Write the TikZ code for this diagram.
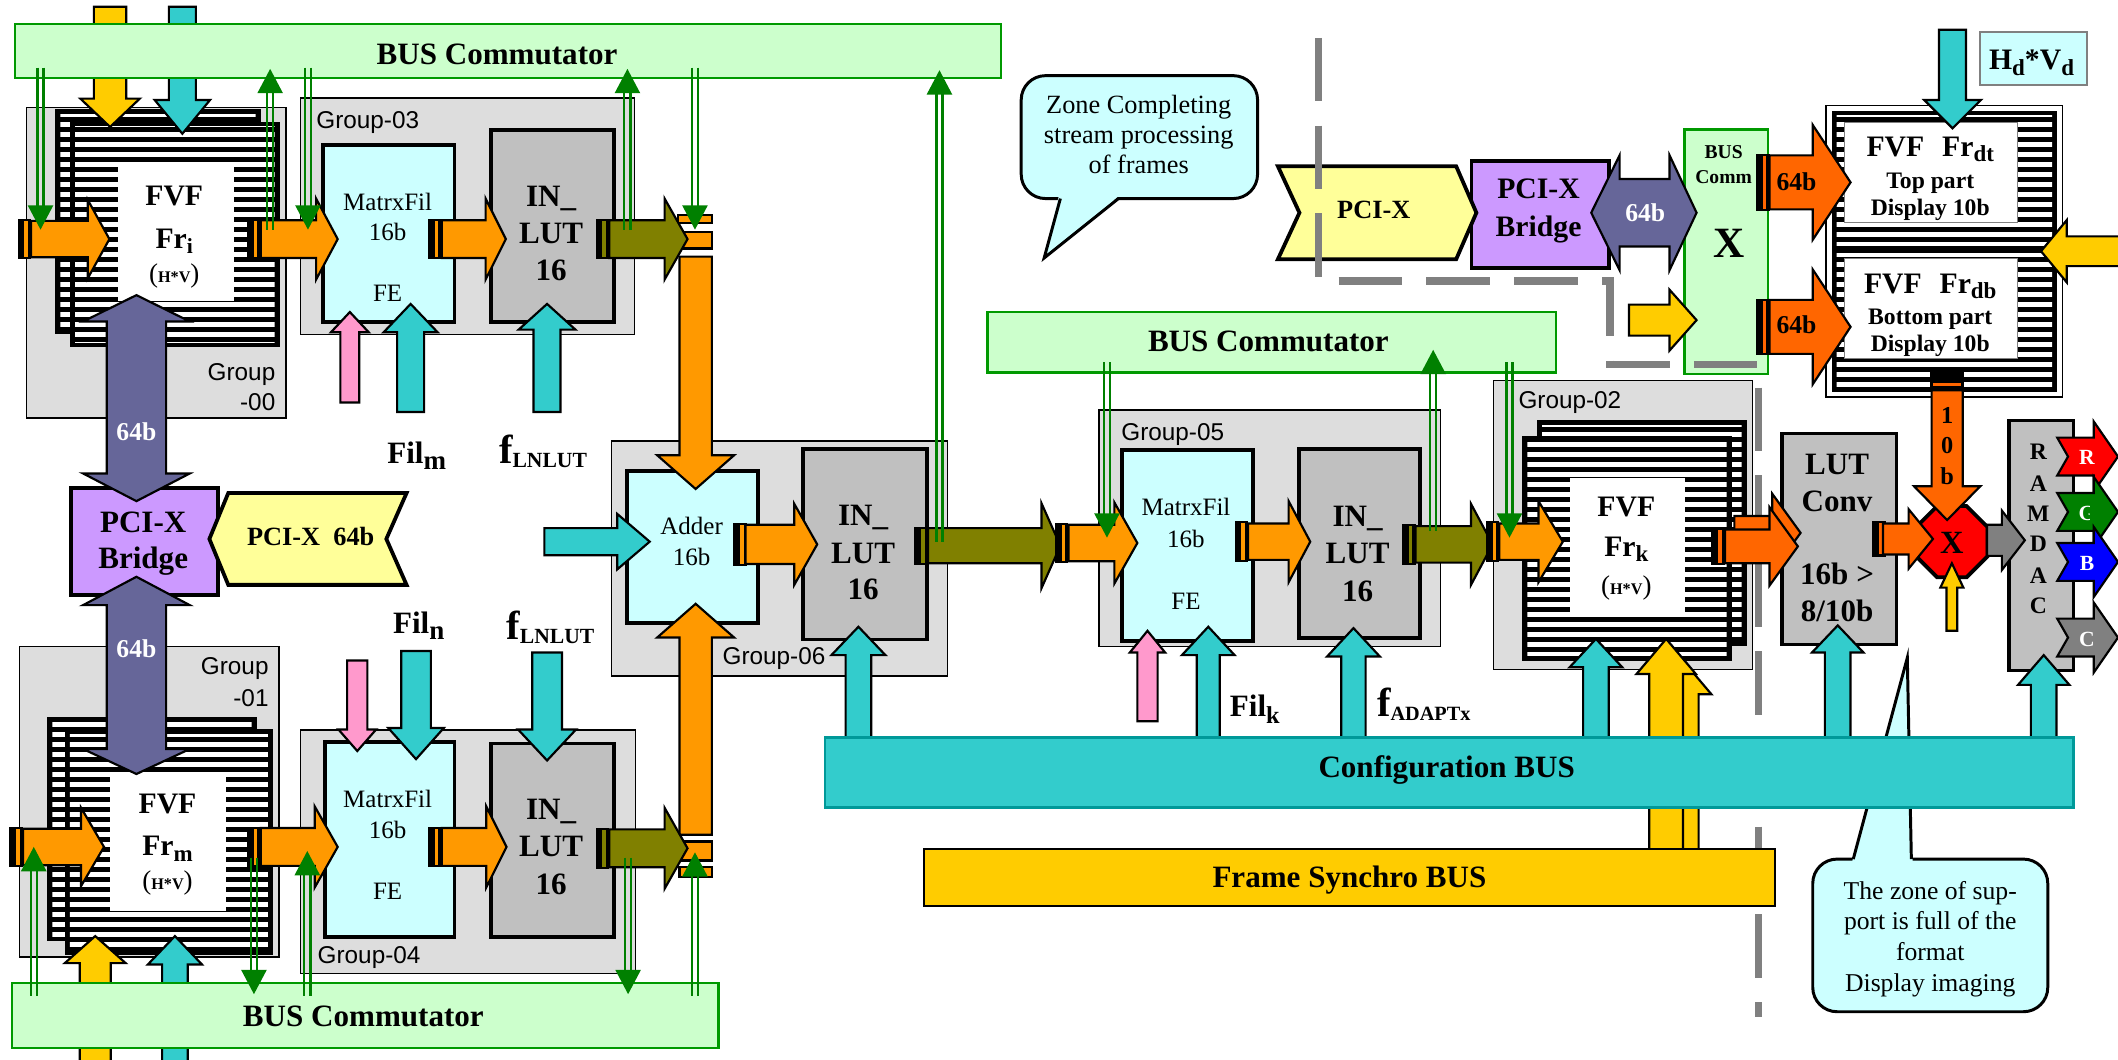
\documentclass[tikz,border=0pt]{standalone}
\usepackage{fontspec}
\setmainfont{Liberation Serif}
\newfontfamily\arialf{Liberation Sans}
\usepackage{graphicx}
\usetikzlibrary{shapes.geometric}
\definecolor{busgreen}{HTML}{CCFFCC}
\definecolor{busline}{HTML}{009900}
\definecolor{grp}{HTML}{DDDDDD}
\definecolor{lcyan}{HTML}{CCFFFF}
\definecolor{lgray}{HTML}{C0C0C0}
\definecolor{orng}{HTML}{FF9900}
\definecolor{olv}{HTML}{808000}
\definecolor{ored}{HTML}{FF6600}
\definecolor{lpurp}{HTML}{CC99FF}
\definecolor{dpurp}{HTML}{666699}
\definecolor{lyel}{HTML}{FFFF99}
\definecolor{gold}{HTML}{FFCC00}
\definecolor{tq}{HTML}{33CCCC}
\definecolor{tqd}{HTML}{009999}
\definecolor{pnk}{HTML}{FF99CC}
\definecolor{gar}{HTML}{008000}
\definecolor{dgray}{HTML}{808080}
\definecolor{rblue}{HTML}{0000FF}

\newcommand\fsz[1]{\fontsize{#1}{#1}\selectfont}
\newcommand\sbs[3]{\raisebox{-#2pt}{\fsz{#1}#3}}

\tikzset{
  arr/.style={draw=black,line width=1.6,line join=miter},
  grpbox/.style={draw=black,fill=grp,line width=1.1},
  cbox/.style={draw=black,fill=lcyan,line width=2.8},
  gbox/.style={draw=black,fill=lgray,line width=2.8},
  pbox/.style={draw=black,fill=lpurp,line width=2.8},
  bus/.style={draw=busline,fill=busgreen,line width=1.8},
  gl/.style={draw=gar,line width=1.7},
  tx/.style={inner sep=0,anchor=base,align=center},
  glab/.style={inner sep=0,font=\arialf\fsz{18}},
}
\newcommand\bx[6]{\node[#2,inner sep=0,anchor=north west,minimum width={#5-#3},minimum height={#6-#4}] (#1) at (#3,#4) {};}
\newcommand\T[5]{\node[tx] (#1) at (#2,#3) {\fsz{#4}#5};}
\newcommand\barrow[8]{\filldraw[arr,fill=#1,shift={(#2,#3)},rotate=#4] (0,{-(#6)}) -- ({(#5)-(#8)},{-(#6)}) -- ({(#5)-(#8)},{-(#7)}) -- ({#5},0) -- ({(#5)-(#8)},{#7}) -- ({(#5)-(#8)},{#6}) -- (0,{#6}) -- cycle;}
\newcommand\arR[7]{\barrow{#1}{#2}{#4}{0}{#3-#2}{#5}{#6}{#7}}
\newcommand\arL[7]{\barrow{#1}{#2}{#4}{180}{#2-#3}{#5}{#6}{#7}}
\newcommand\arU[7]{\barrow{#1}{#4}{#2}{90}{#2-#3}{#5}{#6}{#7}}
\newcommand\arD[7]{\barrow{#1}{#4}{#2}{-90}{#3-#2}{#5}{#6}{#7}}
\newcommand\tl[4]{\fill[black] (#1,{#2-#3}) rectangle ({#1+10},{#2+#3}); \fill[#4] ({#1+5},{#2-#3+1.5}) rectangle ({#1+7.5},{#2+#3-1.5});}
\newcommand\striped[4]{\fill[black] (#1,#2) rectangle (#3,#4);
  \begin{scope}\clip ({#1+3.7},{#2+3.7}) rectangle ({#3-3.7},{#4-3.7});
  \foreach \k in {0,...,106} {\fill[white] (#1,{\k*7.4+1.5}) rectangle (#3,{\k*7.4+5.2});}
  \end{scope}}
\newcommand\gU[3]{\draw[gl] ({#1-2.3},#2) -- ({#1-2.3},{#3+16}) ({#1+2.3},#2) -- ({#1+2.3},{#3+16}); \fill[gar] ({#1-9.5},{#3+18}) -- (#1,#3) -- ({#1+9.5},{#3+18}) -- cycle;}
\newcommand\gD[3]{\draw[gl] ({#1-2.3},#2) -- ({#1-2.3},{#3-16}) ({#1+2.3},#2) -- ({#1+2.3},{#3-16}); \fill[gar] ({#1-9.5},{#3-18}) -- (#1,#3) -- ({#1+9.5},{#3-18}) -- cycle;}
\newcommand\dblV[7]{\filldraw[arr,fill=dpurp] (#1,#2) -- ({#1+#7},#3) -- ({#1+#6},#3) -- ({#1+#6},#4) -- ({#1+#7},#4) -- (#1,#5) -- ({#1-#7},#4) -- ({#1-#6},#4) -- ({#1-#6},#3) -- ({#1-#7},#3) -- cycle;}
\newcommand\notch[2]{\filldraw[arr,fill=#1] (1523,{#2-14}) -- (1550,{#2-14}) -- (1550,{#2-26}) -- (1568,#2) -- (1550,{#2+26}) -- (1550,{#2+14}) -- (1523,{#2+14}) -- (1531,#2) -- cycle;}

\begin{document}
\begin{tikzpicture}[x=1pt,y=-1pt]
\useasboundingbox (0,0) rectangle (1568,784);
\clip (0,0) rectangle (1568,784);
\fill[white] (0,0) rectangle (1568,784);

% ---------- group boxes
\bx{g00}{grpbox}{19}{79}{211}{309}
\bx{g01}{grpbox}{14}{478}{206}{708}
\bx{g03}{grpbox}{222}{72}{469}{247}
\bx{g04}{grpbox}{222}{540}{470}{720}
\bx{g06}{grpbox}{452}{326}{701}{500}
\bx{g05}{grpbox}{813}{303}{1066}{478}
\bx{g02}{grpbox}{1105}{281}{1297}{495}

% ---------- striped frames
\striped{41}{81}{193}{247}
\striped{52}{90}{207}{257}
\bx{fri}{fill=white}{87}{121}{173}{223}
\striped{35}{531}{190}{697}
\striped{48}{540}{202}{707}
\bx{frm}{fill=white}{81}{572}{167}{674}
\striped{1138}{311}{1293}{478}
\striped{1127}{323}{1282}{489}
\bx{frk}{fill=white}{1162}{354}{1247}{454}
\draw[line width=1.2] (1352,78) rectangle (1527,294);
\striped{1356}{82}{1523}{290}
\fill[black] (1359,182) rectangle (1520,187);
\bx{frdt}{draw=dgray,fill=white,line width=0.8}{1365}{90}{1493}{164}
\bx{frdb}{draw=dgray,fill=white,line width=0.8}{1365}{191}{1493}{265}

% ---------- component boxes
\bx{mf3}{cbox}{238}{106}{335}{237}
\bx{lut3}{gbox}{362}{95}{453}{237}
\bx{mf4}{cbox}{239}{548}{335}{692}
\bx{lut4}{gbox}{362}{549}{453}{692}
\bx{add}{cbox}{463}{347}{560}{460}
\bx{lut6}{gbox}{593}{331}{685}{472}
\bx{mf5}{cbox}{829}{332}{926}{473}
\bx{lut5}{gbox}{960}{331}{1050}{471}
\bx{lutc}{gbox,line width=2.4}{1318}{320}{1403}{476}
\bx{ramdac}{gbox,line width=2.4}{1486}{310}{1534}{495}
\bx{brL}{pbox}{51}{360}{160}{439}
\filldraw[draw=black,fill=lyel,line width=2.8,line join=miter] (155,399) -- (169,365) -- (301,365) -- (286,399) -- (301,433) -- (169,433) -- cycle;
\bx{brR}{pbox}{1088}{118}{1190}{197}
\filldraw[draw=black,fill=lyel,line width=2.8,line join=miter] (946,123) -- (1078,123) -- (1093,157.5) -- (1078,192) -- (946,192) -- (962,157.5) -- cycle;
\bx{bcomm}{bus}{1246}{95}{1308}{276}
\bx{hv}{draw=dgray,fill=lcyan,line width=1.5}{1465}{23}{1544}{62}
\node[regular polygon,regular polygon sides=8,minimum size=57,draw=black,fill=red,line width=2.8,inner sep=0] (oct) at (1445,401) {};

% ---------- dashed zone line
\draw[dgray,line width=5.5,dash pattern=on 47pt off 18pt] (976,28) -- (976,208) -- (1192,208) -- (1192,270) -- (1302,270) -- (1302,753);

% ---------- speech bubble 1
\filldraw[draw=black,fill=lcyan,line width=2.2,rounded corners=18] (756,56) rectangle (931,147);
\fill[lcyan] (784,144.5) -- (773,191) -- (829,144.5) -- cycle;
\draw[line width=2.2] (785,147) -- (773,191) -- (828,147);

% ---------- orange vertical connectors
\filldraw[arr,fill=orng] (502,159) rectangle (527,165);
\filldraw[arr,fill=orng] (502,172) rectangle (527,184);
\arD{orng}{190}{362}{515}{12}{28.5}{25}
\arU{orng}{618}{447}{515}{12}{28.5}{25}
\filldraw[arr,fill=orng] (503,623) rectangle (527,637);
\filldraw[arr,fill=orng] (503,642) rectangle (527,649);

% ---------- horizontal flow arrows
\tl{13}{177}{15}{orng}\arR{orng}{23}{81}{177}{13.5}{29}{16}
\tl{183}{177}{15}{orng}\arR{orng}{193}{250}{177}{14}{30}{16}
\tl{317}{177}{15}{orng}\arR{orng}{327}{374.5}{177}{14}{30}{15}
\tl{441}{177}{15}{olv}\arR{olv}{451}{509}{177}{14}{30}{17}
\tl{7}{627}{15}{orng}\arR{orng}{17}{77}{627}{13.5}{29}{17}
\tl{183}{627}{15}{orng}\arR{orng}{193}{250}{627}{14}{30}{17}
\tl{317}{627}{15}{orng}\arR{orng}{327}{375}{627}{14}{30}{15}
\tl{441}{628}{15}{olv}\arR{olv}{451}{509}{628}{14}{30}{17}
\tl{543}{403}{16}{orng}\arR{orng}{552}{605}{403}{14.5}{30}{17}
\tl{677}{404}{14}{olv}\arR{olv}{687}{785}{404}{13}{31.5}{14}
\tl{781}{402}{15}{orng}\arR{orng}{791}{842}{402}{13.5}{30}{17}
\tl{914}{401}{15}{orng}\arR{orng}{924}{970}{401}{13.5}{30}{16}
\tl{1038}{403}{15}{olv}\arR{olv}{1048}{1105}{403}{13.5}{30}{16}
\tl{1100}{401}{15}{orng}\arR{orng}{1110}{1157}{401}{13.5}{30}{18}
\arR{ored}{1284}{1333}{394.5}{12.5}{29}{21}
\tl{1267}{404.5}{14}{ored}\arR{ored}{1277}{1331}{404.5}{12.5}{29}{21}
\tl{1386}{399}{13}{ored}\arR{ored}{1394}{1431}{399}{11.5}{22}{18}
\arR{dgray}{1471}{1499}{400}{11.5}{22}{17}
\tl{1300}{135}{21}{ored}\arR{ored}{1310}{1370}{135}{20}{42.5}{28}
\tl{1300}{242}{21}{ored}\arR{ored}{1310}{1370}{242}{20}{42.5}{28}
\arR{gold}{1206}{1256}{237}{11.5}{22.5}{20}
\arL{gold}{1575}{1511}{186}{11}{23}{19}
\arR{tq}{403}{481}{401}{10}{20.5}{24}

% ---------- vertical arrows
\arD{gold}{5}{94}{81.5}{12}{22}{21}
\arD{tq}{5}{99}{135}{10}{20.5}{25}
\arU{gold}{795}{693}{70.5}{11.5}{22.5}{20}
\arU{tq}{795}{693}{129.5}{9.5}{20}{21}
\arU{pnk}{298}{231}{259}{7}{14}{15}
\arU{tq}{305}{225}{304}{10}{20}{21}
\arU{tq}{305}{225}{405}{10}{21}{19}
\arD{pnk}{489}{556}{264.5}{7.5}{14}{16}
\arD{tq}{482}{562}{308}{11}{20.5}{23}
\arD{tq}{483}{563}{405}{11}{21.5}{23}
\arU{tq}{546}{464}{635.5}{9.5}{20}{21}
\arU{pnk}{534}{467}{849.5}{7.5}{13}{16}
\arU{tq}{546}{464}{894.5}{8.5}{19.5}{21}
\arU{tq}{546}{465}{1002}{9}{19.5}{21}
\arU{tq}{546}{473}{1181.5}{9.5}{19.5}{21}
\arU{gold}{629}{488}{1245}{12.5}{22}{26}
\arU{gold}{629}{473}{1233.5}{12.5}{22}{26}
\arU{tq}{546}{463}{1360.5}{9.5}{19}{20}
\arU{tq}{546}{485}{1513}{9.5}{19}{22}
\fill[black] (1429,274) rectangle (1454,289);
\fill[ored] (1431,283.5) rectangle (1452,286);
\arD{ored}{289}{385}{1441.5}{11.5}{24.5}{25}
\arU{gold}{467}{417}{1445}{4}{8.5}{18}
\arD{tq}{22}{95}{1445.5}{10}{21}{21}

% ---------- purple 64b arrows
\dblV{101}{218.5}{238}{350.5}{371}{22}{39.5}
\dblV{101}{427}{448}{554.5}{573}{22}{39.5}
\filldraw[arr,fill=dpurp] (1178,157.5) -- (1199,115) -- (1199,132.5) -- (1236,132.5) -- (1236,115) -- (1256,157.5) -- (1236,200) -- (1236,182.5) -- (1199,182.5) -- (1199,200) -- cycle;

% ---------- RAMDAC outputs
\notch{red}{338}
\notch{gar}{379}
\notch{rblue}{416}
\notch{dgray}{472}

% ---------- buses
\bx{busT}{bus}{10}{17}{740}{57}
\bx{busB}{bus}{8}{727}{531}{775}
\bx{busM}{bus}{730}{230}{1151}{275}

% ---------- speech bubble 2
\filldraw[draw=black,fill=lcyan,line width=2.2,rounded corners=18] (1342,636) rectangle (1516,749);
\fill[lcyan] (1371,638.5) -- (1412,487) -- (1416,638.5) -- cycle;
\draw[line width=2.2] (1372,636) -- (1412,487) -- (1415,636);

\bx{cfg}{draw=tqd,fill=tq,line width=1.8}{610}{545}{1534}{597}
\bx{fsb}{draw=black,fill=gold,line width=1.5}{683}{628}{1313}{670}

% ---------- green commutator arrows
\gD{30}{50}{170}
\gU{200}{170}{51}
\gD{228}{50}{170}
\gU{464.5}{170}{51}
\gD{514.5}{50}{170}
\gU{695.5}{401}{52}
\gD{819.5}{268}{398}
\gU{1061}{393}{259}
\gD{1117.5}{268}{398}
\gU{25}{737}{627}
\gD{188}{635}{736}
\gU{227.5}{737}{630}
\gD{465}{635}{736}
\gU{514.5}{737}{631}

% ---------- texts
\T{tBusT}{368}{47.4}{23}{\bfseries BUS Commutator}
\T{tBusB}{269}{759.6}{23}{\bfseries BUS Commutator}
\T{tBusM}{939}{260.3}{23}{\bfseries BUS Commutator}
\T{tCfg}{1071}{575.7}{23}{\bfseries Configuration BUS}
\T{tFsb}{999}{657}{23}{\bfseries Frame Synchro BUS}

\node[glab,anchor=base east] (lg00a) at (204,281.5) {Group};
\node[glab,anchor=base east] (lg00b) at (204,303.7) {-00};
\node[glab,anchor=base east] (lg01a) at (199,499.7) {Group};
\node[glab,anchor=base east] (lg01b) at (199,523.4) {-01};
\node[glab,anchor=base west] (lg03) at (234,95) {Group-03};
\node[glab,anchor=base west] (lg04) at (235,713) {Group-04};
\node[glab,anchor=base west] (lg05) at (830,326) {Group-05};
\node[glab,anchor=base west] (lg02) at (1124,302.3) {Group-02};
\node[glab,anchor=base] (lg06) at (573,492.3) {Group-06};

\T{tFri1}{129}{152}{22}{\bfseries FVF}
\T{tFri2}{129}{184}{22}{\bfseries Fr\sbs{16}{4}{i}}
\T{tFri3}{129}{209}{20}{({\fsz{12}\bfseries H*V})}
\T{tFrm1}{124}{602.5}{22}{\bfseries FVF}
\T{tFrm2}{124}{633.6}{22}{\bfseries Fr\sbs{17}{4}{m}}
\T{tFrm3}{124}{658.5}{20}{({\fsz{12}\bfseries H*V})}
\T{tFrk1}{1204}{382.5}{22}{\bfseries FVF}
\T{tFrk2}{1204}{412}{22}{\bfseries Fr\sbs{17}{4}{k}}
\T{tFrk3}{1204}{440}{20}{({\fsz{12}\bfseries H*V})}

\T{tMf3a}{287}{156}{18.5}{MatrxFil}
\T{tMf3b}{287}{178.3}{18.5}{16b}
\T{tMf3c}{287}{223.5}{18.5}{FE}
\T{tMf4a}{287}{598}{18.5}{MatrxFil}
\T{tMf4b}{287}{621}{18.5}{16b}
\T{tMf4c}{287}{666}{18.5}{FE}
\T{tMf5a}{878}{382}{18.5}{MatrxFil}
\T{tMf5b}{878}{405}{18.5}{16b}
\T{tMf5c}{878}{451}{18.5}{FE}

\T{tL3a}{408}{153}{23}{\bfseries IN\_}
\T{tL3b}{408}{180}{23}{\bfseries LUT}
\T{tL3c}{408}{207.4}{23}{\bfseries 16}
\T{tL4a}{408}{607}{23}{\bfseries IN\_}
\T{tL4b}{408}{634}{23}{\bfseries LUT}
\T{tL4c}{408}{662}{23}{\bfseries 16}
\T{tL6a}{639}{389.4}{23}{\bfseries IN\_}
\T{tL6b}{639}{417}{23}{\bfseries LUT}
\T{tL6c}{639}{444}{23}{\bfseries 16}
\T{tL5a}{1005}{390}{23}{\bfseries IN\_}
\T{tL5b}{1005}{417}{23}{\bfseries LUT}
\T{tL5c}{1005}{445}{23}{\bfseries 16}

\T{tAdd1}{512}{396}{18.5}{Adder}
\T{tAdd2}{512}{419}{18.5}{16b}

\T{tBrL1}{106}{394}{23}{\bfseries PCI-X}
\T{tBrL2}{106}{420.5}{23}{\bfseries Bridge}
\T{tChL}{230}{403.5}{19.5}{\bfseries PCI-X\hspace{0.5em}64b}
\T{t64a}{101}{325.8}{19}{\bfseries\color{white}64b}
\T{t64b}{101}{487}{19}{\bfseries\color{white}64b}

\T{tFilm}{308.5}{342.8}{23}{\bfseries Fil\sbs{20}{5}{m}}
\T{tfl1}{402}{342.8}{30}{\bfseries f\sbs{16}{3}{LNLUT}}
\T{tFiln}{310}{468.7}{23}{\bfseries Fil\sbs{20}{5}{n}}
\T{tfl2}{407.5}{473.5}{30}{\bfseries f\sbs{16}{3}{LNLUT}}
\T{tFilk}{929}{530.4}{23}{\bfseries Fil\sbs{18}{5}{k}}
\T{tfad}{1054}{530.4}{30}{\bfseries f\sbs{15}{3}{ADAPTx}}

\T{tZ1}{843}{84}{19.5}{Zone Completing}
\T{tZ2}{843}{106.5}{19.5}{stream processing}
\T{tZ3}{843}{128.5}{19.5}{of frames}

\T{tChR}{1017}{161.5}{19.5}{\bfseries PCI-X}
\T{tBrR1}{1139}{146.6}{22}{\bfseries PCI-X}
\T{tBrR2}{1139}{175}{22}{\bfseries Bridge}
\T{t64c}{1218}{164}{19}{\bfseries\color{white}64b}
\T{tBc1}{1276}{117}{14.5}{\bfseries BUS}
\T{tBc2}{1276}{136}{14.5}{\bfseries Comm}
\T{tBc3}{1280}{191}{32}{\bfseries X}
\T{t64d}{1330}{140.7}{19}{\bfseries 64b}
\T{t64e}{1330}{246.8}{19}{\bfseries 64b}
\T{tFd1}{1429}{115.5}{22}{\bfseries FVF\hspace{0.6em}Fr\sbs{17}{4}{dt}}
\T{tFd2}{1429}{139.4}{17.5}{\bfseries Top part}
\T{tFd3}{1429}{159.2}{17.5}{\bfseries Display 10b}
\T{tFd4}{1429}{217.2}{22}{\bfseries FVF\hspace{0.6em}Fr\sbs{17}{4}{db}}
\T{tFd5}{1429}{240.6}{17.5}{\bfseries Bottom part}
\T{tFd6}{1429}{260.3}{17.5}{\bfseries Display 10b}
\T{tHV}{1504}{51.8}{22}{\bfseries H\sbs{17}{4}{d}*V\sbs{17}{4}{d}}

\T{tLc1}{1360}{351.6}{23}{\bfseries LUT}
\T{tLc2}{1360}{379}{23}{\bfseries Conv}
\T{tLc3}{1360}{433}{23}{\bfseries 16b >}
\T{tLc4}{1360}{460}{23}{\bfseries 8/10b}
\T{tOx}{1445}{409.6}{24}{\bfseries X}
\T{t10a}{1441.5}{313.4}{18}{\bfseries 1}
\T{t10b}{1441.5}{336}{18}{\bfseries 0}
\T{t10c}{1441.5}{359}{18}{\bfseries b}
\T{tR1}{1509}{340.5}{17.5}{\bfseries R}
\T{tR2}{1509}{364}{17.5}{\bfseries A}
\T{tR3}{1509}{386}{17.5}{\bfseries M}
\T{tR4}{1509}{408.4}{17.5}{\bfseries D}
\T{tR5}{1509}{431.7}{17.5}{\bfseries A}
\T{tR6}{1509}{454}{17.5}{\bfseries C}
\T{tOR}{1545}{344}{16}{\bfseries\color{white}R}
\begin{scope}
\clip (1500,360) rectangle (1547,400);
\T{tOG}{1545}{385}{16}{\bfseries\color{white}G}
\end{scope}
\T{tOB}{1545}{422}{16}{\bfseries\color{white}B}
\T{tOC}{1545}{478.7}{16}{\bfseries\color{white}C}

\T{tS1}{1429}{666}{19}{The zone of sup-}
\T{tS2}{1429}{688}{19}{port is full of the}
\T{tS3}{1429}{711}{19}{format}
\T{tS4}{1429}{734}{19}{Display imaging}
\end{tikzpicture}
\end{document}
